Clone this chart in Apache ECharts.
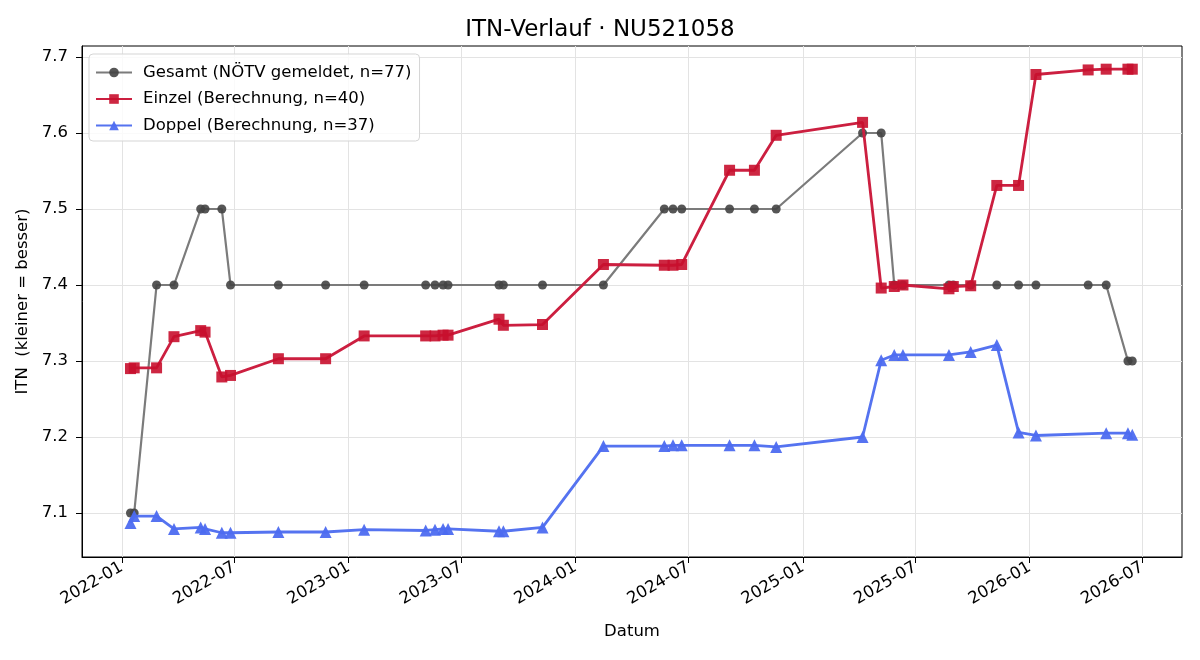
<!DOCTYPE html>
<html>
<head>
<meta charset="utf-8">
<script src="https://cdn.jsdelivr.net/npm/echarts@6/dist/echarts.min.js"></script>
<style>
  html, body { margin: 0; padding: 0; background: #fff; }
  #chart { width: 1200px; height: 660px; }
</style>
</head>
<body>
<div id="chart"></div>
<script>
// Gesamt (gemeldet)
const gesamtDates = ['2022-01-15', '2022-01-21', '2022-02-26', '2022-03-26', '2022-05-08', '2022-05-15',
    '2022-06-11', '2022-06-25', '2022-09-10', '2022-11-25', '2023-01-26', '2023-05-05', '2023-05-20',
    '2023-06-02', '2023-06-10', '2023-08-31', '2023-09-07', '2023-11-09', '2024-02-15', '2024-05-23',
    '2024-06-06', '2024-06-20', '2024-09-05', '2024-10-15', '2024-11-19', '2025-04-07', '2025-05-07',
    '2025-05-28', '2025-06-11', '2025-08-24', '2025-08-31', '2025-09-28', '2025-11-09', '2025-12-14',
    '2026-01-11', '2026-04-05', '2026-05-04', '2026-06-08', '2026-06-15']
const gesamtValues = [7.1, 7.1, 7.4, 7.4, 7.5, 7.5,
    7.5, 7.4, 7.4, 7.4, 7.4, 7.4, 7.4,
    7.4, 7.4, 7.4, 7.4, 7.4, 7.4, 7.5,
    7.5, 7.5, 7.5, 7.5, 7.5, 7.6, 7.6,
    7.4, 7.4, 7.4, 7.4, 7.4, 7.4, 7.4,
    7.4, 7.4, 7.4, 7.3, 7.3]

// Einzel (Berechnung)
const einzelDates = ['2022-01-15', '2022-01-21', '2022-02-26', '2022-03-26', '2022-05-08', '2022-05-15',
    '2022-06-11', '2022-06-25', '2022-09-10', '2022-11-25', '2023-01-26', '2023-05-05', '2023-05-20',
    '2023-06-02', '2023-06-10', '2023-08-31', '2023-09-07', '2023-11-09', '2024-02-15', '2024-05-23',
    '2024-06-06', '2024-06-20', '2024-09-05', '2024-10-15', '2024-11-19', '2025-04-07', '2025-05-07',
    '2025-05-28', '2025-06-11', '2025-08-24', '2025-08-31', '2025-09-28', '2025-11-09', '2025-12-14',
    '2026-01-11', '2026-04-05', '2026-05-04', '2026-06-08', '2026-06-15']
const einzelValues = [7.290, 7.291, 7.291, 7.332, 7.340, 7.338,
    7.279, 7.281, 7.303, 7.303, 7.333, 7.333, 7.333,
    7.334, 7.334, 7.355, 7.347, 7.348, 7.427, 7.426,
    7.426, 7.427, 7.551, 7.551, 7.597, 7.614, 7.396,
    7.398, 7.400, 7.395, 7.398, 7.399, 7.531, 7.531,
    7.677, 7.683, 7.684, 7.684, 7.684]

// Doppel (Berechnung)
const doppelDates = ['2022-01-15', '2022-01-21', '2022-02-26', '2022-03-26', '2022-05-08', '2022-05-15',
    '2022-06-11', '2022-06-25', '2022-09-10', '2022-11-25', '2023-01-26', '2023-05-05', '2023-05-20',
    '2023-06-02', '2023-06-10', '2023-08-31', '2023-09-07', '2023-11-09', '2024-02-15', '2024-05-23',
    '2024-06-06', '2024-06-20', '2024-09-05', '2024-10-15', '2024-11-19', '2025-04-07', '2025-05-07',
    '2025-05-28', '2025-06-11', '2025-08-24', '2025-09-28', '2025-11-09', '2025-12-14',
    '2026-01-11', '2026-05-04', '2026-06-08', '2026-06-15']
const doppelValues = [7.087, 7.096, 7.096, 7.079, 7.081, 7.079,
    7.074, 7.074, 7.075, 7.075, 7.078, 7.077, 7.078,
    7.079, 7.079, 7.076, 7.076, 7.081, 7.188, 7.188,
    7.189, 7.189, 7.189, 7.189, 7.187, 7.200, 7.301,
    7.308, 7.308, 7.308, 7.312, 7.321, 7.206,
    7.202, 7.205, 7.205, 7.203]

const xTicks = ['2022-01-01', '2022-07-01', '2023-01-01', '2023-07-01', '2024-01-01',
    '2024-07-01', '2025-01-01', '2025-07-01', '2026-01-01', '2026-07-01']
const yTicks = [7.1, 7.2, 7.3, 7.4, 7.5, 7.6, 7.7]

// dates as UTC timestamps, x axis is a plain value axis
const parse = d => Date.parse(d + 'T00:00:00Z')
const pairs = (dates, values) => dates.map((d, i) => [parse(d), values[i]])
const fmtMonth = v => {
    const d = new Date(v)
    return d.getUTCFullYear() + '-' + String(d.getUTCMonth() + 1).padStart(2, '0')
}

const FONT = 'DejaVu Sans'
const FS = 16.5
const chart = echarts.init(document.getElementById('chart'))

const option = {
    animation: false,
    textStyle: { fontFamily: FONT },
    title: {
        text: 'ITN-Verlauf · NU521058',
        left: 'center',
        top: 14,
        textStyle: { fontFamily: FONT, fontSize: 23, fontWeight: 'normal', color: '#000' }
    },
    legend: {
        left: 89,
        top: 54,
        orient: 'vertical',
        itemWidth: 36,
        itemHeight: 12,
        itemGap: 9.5,
        padding: [10, 8, 7, 6],
        backgroundColor: 'rgba(255,255,255,0.8)',
        borderColor: '#d5d5d5',
        borderWidth: 1,
        borderRadius: 4,
        textStyle: { fontFamily: FONT, fontSize: FS, color: '#000', padding: [0, 0, 0, 6] }
    },
    grid: {
        left: 82,
        right: 18,
        top: 46,
        bottom: 103,
        show: true,
        borderColor: '#000',
        borderWidth: 1
    },
    xAxis: {
        type: 'value',
        min: parse('2021-10-29'),
        max: parse('2026-09-03'),
        name: 'Datum',
        nameLocation: 'middle',
        nameGap: 66,
        nameTextStyle: { fontFamily: FONT, fontSize: FS, color: '#000' },
        axisLine: { show: true, lineStyle: { color: '#000' } },
        axisTick: { show: true, length: 6, lineStyle: { color: '#000' }, customValues: xTicks.map(parse) },
        axisLabel: {
            customValues: xTicks.map(parse),
            rotate: 30,
            fontFamily: FONT,
            fontSize: FS,
            color: '#000',
            margin: 9,
            formatter: fmtMonth
        },
        splitLine: { show: true, lineStyle: { color: '#e3e3e3', width: 1 } }
    },
    yAxis: {
        type: 'value',
        min: 7.0421,
        max: 7.7145,
        name: 'ITN  (kleiner = besser)',
        nameLocation: 'middle',
        nameGap: 44,
        nameTextStyle: { fontFamily: FONT, fontSize: FS, color: '#000' },
        axisLine: { show: true, lineStyle: { color: '#000' } },
        axisTick: { show: true, length: 6, lineStyle: { color: '#000' }, customValues: yTicks },
        axisLabel: {
            customValues: yTicks,
            fontFamily: FONT,
            fontSize: FS,
            color: '#000',
            margin: 14,
            formatter: v => v.toFixed(1)
        },
        splitLine: { show: true, lineStyle: { color: '#e3e3e3', width: 1 } }
    },
    series: [
        {
            name: 'Gesamt (NÖTV gemeldet, n=77)',
            type: 'line',
            data: pairs(gesamtDates, gesamtValues),
            symbol: 'circle',
            symbolSize: 9,
            lineStyle: { color: '#7b7b7b', width: 2.2 },
            itemStyle: { color: '#444444', opacity: 0.9 },
            z: 2
        },
        {
            name: 'Einzel (Berechnung, n=40)',
            type: 'line',
            data: pairs(einzelDates, einzelValues),
            symbol: 'rect',
            symbolSize: 11,
            lineStyle: { color: '#cc1f40', width: 2.8 },
            itemStyle: { color: '#c8102e', opacity: 0.9 },
            z: 3
        },
        {
            name: 'Doppel (Berechnung, n=37)',
            type: 'line',
            data: pairs(doppelDates, doppelValues),
            symbol: 'triangle',
            symbolSize: 12,
            lineStyle: { color: '#5573f0', width: 2.8 },
            itemStyle: { color: '#4d6cf0', opacity: 0.95 },
            z: 4
        }
    ]
}

chart.setOption(option)
</script>
</body>
</html>
